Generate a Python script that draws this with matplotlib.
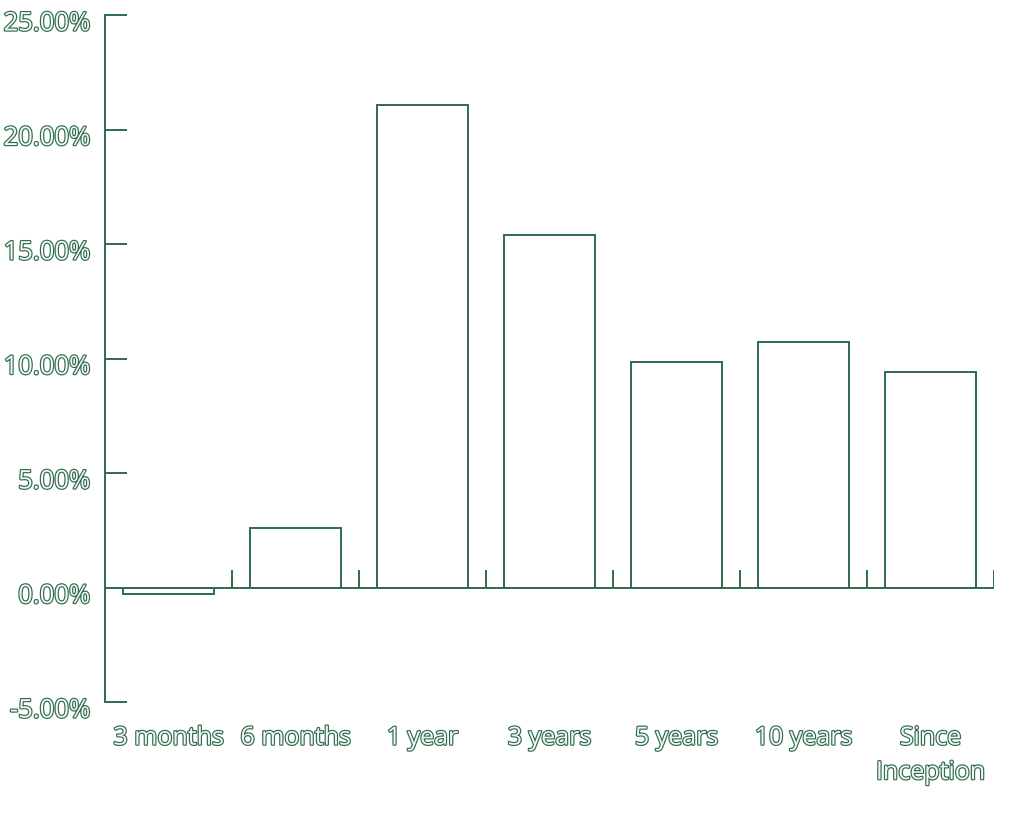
import matplotlib.pyplot as plt
import matplotlib.patheffects as pe
import matplotlib.transforms as mtransforms
import numpy as np

periods = ['3 months', '6 months', '1 year', '3 years', '5 years', '10 years', 'Since\nInception']
returns = [-0.30, 2.62, 21.07, 15.40, 9.86, 10.73, 9.42]
yticks = [-5, 0, 5, 10, 15, 20, 25]

green = '#2f6b4c'
outline = [pe.withStroke(linewidth=1.7, foreground=green)]


def main():
	plt.rcParams['font.family'] = ['Open Sans', 'DejaVu Sans']
	fig = plt.figure(figsize=(10.24, 8.33), dpi=100)
	ax = fig.add_axes([105/1024, 1-702/833, 889/1024, 687/833])
	x = np.arange(len(periods))
	ax.bar(x, returns, width=0.72, facecolor='white', edgecolor=green, linewidth=1.4)
	ax.set_xlim(-0.5, len(periods) - 0.5)
	ax.set_ylim(-5, 25)

	for s in ['top', 'right', 'bottom']:
		ax.spines[s].set_visible(False)
	ax.spines['left'].set_color(green)
	ax.spines['left'].set_linewidth(1.4)

	# zero line with category boundary ticks
	ax.axhline(0, color=green, linewidth=1.4)
	ax.vlines(x + 0.5, 0, 0.75, color=green, linewidth=1.4)

	ax.set_yticks(yticks)
	ax.set_yticklabels(['%.2f%%' % v for v in yticks])
	ax.tick_params(axis='y', direction='in', length=16, width=1.4, color=green, pad=10.5,
		labelsize=18.5, labelcolor='#f4f8f5')
	ax.set_xticks(x)
	ax.set_xticklabels(periods, linespacing=1.5)
	ax.tick_params(axis='x', length=0, pad=17, labelsize=18, labelcolor='#f4f8f5')
	shift = mtransforms.ScaledTranslation(0, -6/100, fig.dpi_scale_trans)
	for t in ax.get_yticklabels():
		t.set_transform(t.get_transform() + shift)
	for t in ax.get_xticklabels() + ax.get_yticklabels():
		t.set_path_effects(outline)

	fig.savefig('out.png', dpi=100)


if __name__ == '__main__':
	main()
